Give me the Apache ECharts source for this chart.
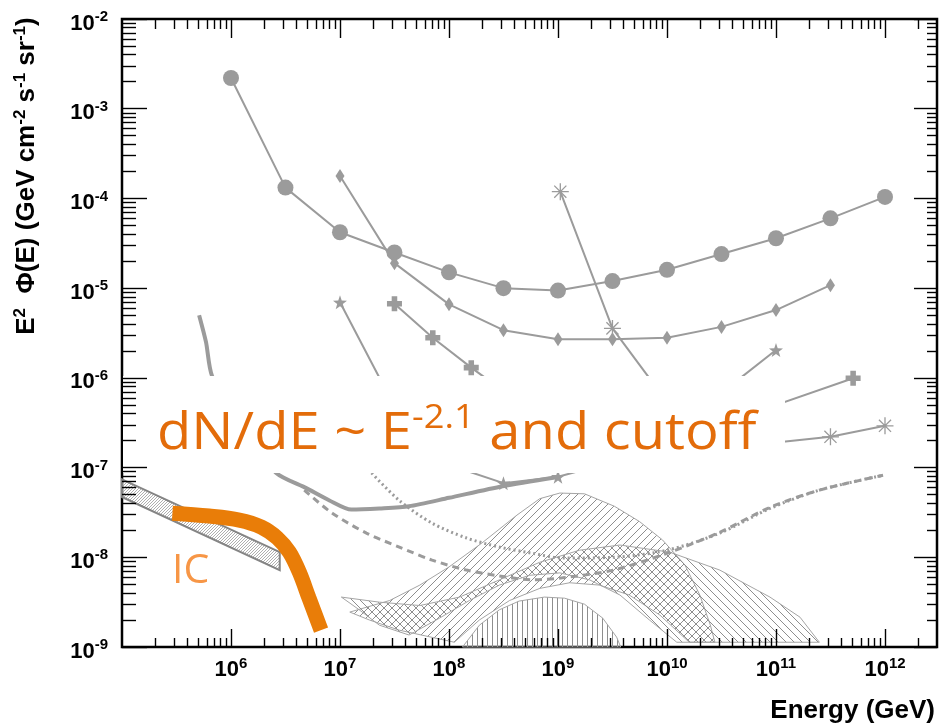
<!DOCTYPE html>
<html>
<head>
<meta charset="utf-8">
<script src="https://cdn.jsdelivr.net/npm/echarts@6/dist/echarts.min.js"></script>
<style>
  html, body { margin: 0; padding: 0; background: #fff; }
  #chart { width: 943px; height: 725px; }
</style>
</head>
<body>
<div id="chart"></div>
<script>
// ---- axis decades (exponents of ten) ----
const xMajorExp = [6, 7, 8, 9, 10, 11, 12];
const yMajorExp = [-9, -8, -7, -6, -5, -4, -3, -2];
const xRange = [1e5, 3e12];
const yRange = [1e-9, 1e-2];

// ---- sensitivity curves: energy (GeV) / E^2 flux (GeV cm^-2 s^-1 sr^-1) ----
const circleE  = [1e6, 3.16e6, 1e7, 3.16e7, 1e8, 3.16e8, 1e9, 3.16e9, 1e10, 3.16e10, 1e11, 3.16e11, 1e12];
const circleF  = [2.2e-3, 1.32e-4, 4.2e-5, 2.5e-5, 1.5e-5, 1.0e-5, 9.4e-6, 1.2e-5, 1.6e-5, 2.4e-5, 3.6e-5, 6.0e-5, 1.04e-4];

const diamondE = [1e7, 3.16e7, 1e8, 3.16e8, 1e9, 3.16e9, 1e10, 3.16e10, 1e11, 3.16e11];
const diamondF = [1.78e-4, 1.9e-5, 6.6e-6, 3.4e-6, 2.7e-6, 2.7e-6, 2.8e-6, 3.7e-6, 5.7e-6, 1.08e-5];

const starE    = [1e7, 3.16e7, 1e8, 3.16e8, 1e9, 3.16e9, 1e10, 3.16e10, 1e11];
const starF    = [6.95e-6, 4.8e-7, 1.07e-7, 6.7e-8, 7.9e-8, 1.15e-7, 2.6e-7, 6.8e-7, 2.04e-6];

const plusE    = [3.16e7, 7.1e7, 1.6e8, 3.5e8, 8e8, 1.8e9, 4e9, 9e9, 2e10, 4.5e10, 5.1e11];
const plusF    = [6.7e-6, 2.8e-6, 1.3e-6, 6.5e-7, 3.8e-7, 2.8e-7, 2.4e-7, 2.4e-7, 2.6e-7, 3.56e-7, 9.9e-7];

const asterE   = [1.05e9, 3.16e9, 1e10, 3.16e10, 1e11, 3.16e11, 1e12];
const asterF   = [1.19e-4, 3.56e-6, 5.4e-7, 2.6e-7, 1.9e-7, 2.2e-7, 2.92e-7];

// thick solid sensitivity curve
const thickE   = [5.1e5, 5.9e5, 6.7e5, 1.32e6, 2.6e6, 4.9e6, 8.0e6, 1.27e7, 2.3e7, 4.3e7, 1.0e8, 3.1e8, 9.7e8];
const thickF   = [5.0e-6, 2.5e-6, 1.05e-6, 2.5e-7, 8.7e-8, 5.9e-8, 4.3e-8, 3.4e-8, 3.5e-8, 3.7e-8, 4.6e-8, 6.2e-8, 7.8e-8];

// dashed and dotted curves
const dashE    = [4.7e6, 8.5e6, 1.75e7, 3.5e7, 7.0e7, 1.45e8, 2.9e8, 5.8e8, 1.1e9, 3.2e9, 1.0e10, 3.05e10, 8.8e10, 2.5e11, 9.6e11];
const dashF    = [5.6e-8, 3.1e-8, 1.86e-8, 1.3e-8, 9.3e-9, 7.2e-9, 6.2e-9, 5.6e-9, 5.9e-9, 7.2e-9, 1.11e-8, 1.9e-8, 3.6e-8, 5.6e-8, 8.2e-8];
const dotE     = [1.95e7, 3.5e7, 7.0e7, 1.45e8, 2.9e8, 5.8e8, 1.1e9, 3.2e9, 1.0e10, 3.05e10, 8.8e10, 2.5e11, 9.6e11];
const dotF     = [8.7e-8, 4.3e-8, 2.4e-8, 1.64e-8, 1.3e-8, 1.11e-8, 9.8e-9, 1.0e-8, 1.2e-8, 1.86e-8, 3.5e-8, 5.6e-8, 8.2e-8];

// inverse-Compton curve
const icE      = [2.9e5, 6.3e5, 1.19e6, 1.9e6, 2.66e6, 3.43e6, 4.24e6, 5.2e6, 6.7e6];
const icF      = [3.1e-8, 2.88e-8, 2.6e-8, 2.17e-8, 1.64e-8, 1.14e-8, 6.8e-9, 3.5e-9, 1.54e-9];

// ---- model bands (outline as [E, flux] pairs) ----
const icBand = [[1e5, 7.4e-8], [2.8e6, 1.14e-8], [2.8e6, 7.2e-9], [1e5, 4.7e-8]];

const bandAUpper = [[1.23e7, 2.45e-9], [2.86e7, 3.3e-9], [5.4e7, 4.9e-9], [1.0e8, 7.8e-9], [2.0e8, 1.44e-8],
  [4.2e8, 2.95e-8], [6.8e8, 4.5e-8], [1.04e9, 5.2e-8], [1.75e9, 5.1e-8], [3.3e9, 3.7e-8], [5.6e9, 2.5e-8],
  [9.1e9, 1.56e-8], [1.46e10, 8.2e-9], [2.0e10, 3.8e-9], [2.5e10, 1.75e-9], [2.75e10, 1.13e-9]];
const bandALower = [[1.6e10, 1.13e-9], [8.6e9, 2.27e-9], [4.5e9, 3.8e-9], [2.4e9, 4.9e-9], [1.28e9, 5.2e-9],
  [6.8e8, 4.5e-9], [3.6e8, 3.3e-9], [1.9e8, 2.0e-9], [1.12e8, 1.13e-9], [3.5e7, 1.54e-9], [1.86e7, 2.0e-9]];

const bandBUpper = [[1.03e7, 3.6e-9], [2.3e7, 3.16e-9], [5.4e7, 2.9e-9], [1.25e8, 3.6e-9], [2.9e8, 5.6e-9],
  [6.8e8, 8.8e-9], [1.58e9, 1.2e-8], [3.7e9, 1.37e-8], [1.06e10, 1.14e-8], [3.05e10, 7.2e-9], [8.8e10, 3.6e-9],
  [1.66e11, 2.15e-9], [2.5e11, 1.13e-9]];
const bandBLower = [[1.23e10, 1.13e-9], [6.9e9, 2.0e-9], [3.7e9, 3.8e-9], [1.95e9, 5.6e-9], [1.04e9, 6.7e-9],
  [5.5e8, 6.3e-9], [2.9e8, 4.9e-9], [1.54e8, 3.3e-9], [8.2e7, 2.1e-9], [4.3e7, 1.36e-9], [2.3e7, 1.75e-9], [1.5e7, 2.6e-9]];

const domeBand = [[1.33e8, 1e-9], [1.9e8, 1.75e-9], [2.9e8, 2.6e-9], [4.4e8, 3.25e-9], [7.5e8, 3.6e-9],
  [1.15e9, 3.5e-9], [1.75e9, 3.0e-9], [2.57e9, 2.1e-9], [3.45e9, 1.29e-9], [3.76e9, 1e-9]];

// ---- styling ----
const GRAY = '#9b9b9b';
const HATCH = '#8e8e8e';
const ORANGE = '#E36C0A';
const AXIS_FONT = 'Liberation Sans, Arial, sans-serif';
const NOTE_FONT = '"Open Sans", Lato, sans-serif';

// hatch tiles used as fill patterns
function hatchTile(kind, step, color, width) {
  const c = document.createElement('canvas');
  c.width = step; c.height = step;
  const g = c.getContext('2d');
  g.strokeStyle = color; g.lineWidth = width;
  g.beginPath();
  if (kind === '/') {
    g.moveTo(0, step); g.lineTo(step, 0);
    g.moveTo(-1, 1); g.lineTo(1, -1);
    g.moveTo(step - 1, step + 1); g.lineTo(step + 1, step - 1);
  } else if (kind === '\\') {
    g.moveTo(0, 0); g.lineTo(step, step);
    g.moveTo(step - 1, -1); g.lineTo(step + 1, 1);
    g.moveTo(-1, step - 1); g.lineTo(1, step + 1);
  } else {
    g.moveTo(step / 2, 0); g.lineTo(step / 2, step);
  }
  g.stroke();
  return { image: c, repeat: 'repeat' };
}

const pairs = (E, F) => E.map((e, i) => [e, F[i]]);
const log10 = Math.log10;

// minor tick positions (2..9 within each decade), in decades
function minorTicks(from, to, maxVal) {
  const out = [];
  for (let d = from; d <= to; d++) {
    for (let k = 2; k <= 9; k++) {
      const v = d + log10(k);
      if (v < maxVal) out.push(v);
    }
  }
  return out;
}
const xLo = log10(xRange[0]), xHi = log10(xRange[1]);
const yLo = log10(yRange[0]), yHi = log10(yRange[1]);
const xMinor = minorTicks(5, 12, xHi);
const yMinor = minorTicks(-9, -3, yHi);

// "10" with a raised exponent
const powRich = {
  b: { fontSize: 22, fontWeight: 'bold', fontFamily: AXIS_FONT, color: '#000', lineHeight: 22, verticalAlign: 'bottom' },
  s: { fontSize: 15, fontWeight: 'bold', fontFamily: AXIS_FONT, color: '#000', lineHeight: 15, verticalAlign: 'bottom',
       padding: [0, 0, 10, 0] }
};
const powFmt = v => '{b|10}{s|' + v + '}';

function tickAxis(pos, lo, hi, values, len, labels, margin, pad) {
  return {
    type: 'value', gridIndex: 0, position: pos, min: lo, max: hi, z: 60,
    axisLine: { show: false }, splitLine: { show: false },
    axisTick: { show: true, inside: true, length: len, customValues: values,
      lineStyle: { color: '#000', width: 1.4 } },
    axisLabel: labels
      ? { show: true, customValues: values, formatter: powFmt, rich: powRich, margin: margin, padding: pad || 0 }
      : { show: false }
  };
}

function lineSeries(name, data, opts) {
  return Object.assign({
    name, type: 'line', xAxisIndex: 0, yAxisIndex: 0, data,
    showSymbol: true, showAllSymbol: true, silent: true, z: 5,
    lineStyle: { color: GRAY, width: 2 },
    itemStyle: { color: GRAY }
  }, opts);
}

function polygonSeries(name, outline, fill, stroke, lineWidth, z) {
  return {
    name, type: 'custom', xAxisIndex: 0, yAxisIndex: 0, z, silent: true,
    data: [[1e8, 1e-8]],
    renderItem(params, api) {
      return {
        type: 'polygon',
        shape: { points: outline.map(p => api.coord(p)) },
        style: { fill: fill, stroke: stroke, lineWidth: lineWidth }
      };
    }
  };
}

const STAR = 'path://M0,-10L2.35,-3.24L9.51,-3.09L3.8,1.24L5.88,8.09L0,4L-5.88,8.09L-3.8,1.24L-9.51,-3.09L-2.35,-3.24Z';
const PLUS = 'path://M-2.6,-7H2.6V-2.6H7V2.6H2.6V7H-2.6V2.6H-7V-2.6H-2.6Z';
const DIAMOND = 'path://M0,-7L3,0L0,7L-3,0Z';
const ASTER = 'path://M-8,0L8,0M0,-8L0,8M-5.7,-5.7L5.7,5.7M-5.7,5.7L5.7,-5.7';

const option = {
  animation: false,
  backgroundColor: '#fff',
  grid: { left: 122, right: 6, top: 19, bottom: 78, show: true, borderColor: '#000', borderWidth: 2.5,
          backgroundColor: 'transparent', containLabel: false, outerBoundsMode: 'none' },
  xAxis: [
    { type: 'log', logBase: 10, min: xRange[0], max: xRange[1], gridIndex: 0, position: 'bottom', show: false },
    tickAxis('bottom', xLo, xHi, xMajorExp, 18, true, 12),
    tickAxis('bottom', xLo, xHi, xMinor, 9, false),
    tickAxis('top', xLo, xHi, xMajorExp, 19, false),
    tickAxis('top', xLo, xHi, xMinor, 10, false)
  ],
  yAxis: [
    { type: 'log', logBase: 10, min: yRange[0], max: yRange[1], gridIndex: 0, position: 'left', show: false },
    tickAxis('left', yLo, yHi, yMajorExp, 25, true, 14, [9, 0, 0, 0]),
    tickAxis('left', yLo, yHi, yMinor, 14, false),
    tickAxis('right', yLo, yHi, yMajorExp, 23, false),
    tickAxis('right', yLo, yHi, yMinor, 10, false)
  ],
  series: [
    polygonSeries('band A', bandAUpper.concat(bandALower), hatchTile('/', 8, HATCH, 1), '#a5a5a5', 1, 3),
    polygonSeries('band B', bandBUpper.concat(bandBLower), hatchTile('\\', 8, HATCH, 1), '#a5a5a5', 1, 3),
    polygonSeries('dome', domeBand, hatchTile('|', 5, HATCH, 1), '#a5a5a5', 1, 3),
    polygonSeries('IC band', icBand, hatchTile('/', 3, '#9a9a9a', 0.8), '#858585', 2, 4),

    lineSeries('thick', pairs(thickE, thickF), { showSymbol: false, smooth: 0.25, lineStyle: { color: GRAY, width: 4 } }),
    lineSeries('dashed', pairs(dashE, dashF), { showSymbol: false, smooth: 0.3, lineStyle: { color: GRAY, width: 3, type: [7, 5] } }),
    lineSeries('dotted', pairs(dotE, dotF), { showSymbol: false, smooth: 0.3, lineStyle: { color: GRAY, width: 3, type: [2, 3] } }),

    lineSeries('circles', pairs(circleE, circleF), { symbol: 'circle', symbolSize: 16 }),
    lineSeries('diamonds', pairs(diamondE, diamondF), { symbol: DIAMOND, symbolSize: [9, 14] }),
    lineSeries('stars', pairs(starE, starF), { symbol: STAR, symbolSize: 14 }),
    lineSeries('crosses', pairs(plusE, plusF), { symbol: PLUS, symbolSize: 15 }),
    lineSeries('asterisks', pairs(asterE, asterF), { symbol: ASTER, symbolSize: 17,
      itemStyle: { color: 'rgba(0,0,0,0)', borderColor: GRAY, borderWidth: 1.3 } }),

    lineSeries('IC', pairs(icE, icF), { showSymbol: false, smooth: 0.35, z: 8,
      lineStyle: { color: '#E97D08', width: 15, cap: 'butt' } })
  ],
  graphic: [
    // white panel behind the spectral-shape note
    { type: 'rect', silent: true, z: 50, shape: { x: 123, y: 376, width: 662, height: 97 }, style: { fill: '#fff' } },
    { type: 'text', silent: true, z: 51, x: 157, y: 400, scaleX: 1.1,
      style: {
        text: '{a|dN/dE ~ E}{s|-2.1}{a| and cutoff}',
        verticalAlign: 'top',
        rich: {
          a: { fontFamily: NOTE_FONT, fontSize: 51, fill: ORANGE, lineHeight: 60, verticalAlign: 'bottom' },
          s: { fontFamily: NOTE_FONT, fontSize: 33, fill: ORANGE, lineHeight: 34, verticalAlign: 'bottom', padding: [0, 0, 25, 0] }
        }
      } },
    { type: 'text', silent: true, z: 51, x: 172, y: 571,
      style: { text: 'IC', fontFamily: NOTE_FONT, fontSize: 41, fill: '#F79646', verticalAlign: 'middle' } },
    // axis titles
    { type: 'text', silent: true, z: 51, x: 935, y: 724,
      style: { text: 'Energy (GeV)', fontFamily: AXIS_FONT, fontWeight: 'bold', fontSize: 26, fill: '#000',
               align: 'right', verticalAlign: 'bottom' } },
    { type: 'text', silent: true, z: 51, x: 27, y: 176, rotation: Math.PI / 2,
      style: {
        text: '{b|E}{s|2}{b|  Φ(E) (GeV cm}{s|-2}{b| s}{s|-1}{b| sr}{s|-1}{b|)}',
        align: 'center', verticalAlign: 'middle',
        rich: {
          b: { fontFamily: AXIS_FONT, fontWeight: 'bold', fontSize: 26, fill: '#000', lineHeight: 26, verticalAlign: 'bottom' },
          s: { fontFamily: AXIS_FONT, fontWeight: 'bold', fontSize: 17, fill: '#000', lineHeight: 17, verticalAlign: 'bottom',
               padding: [0, 0, 11, 0] }
        }
      } }
  ]
};

const chart = echarts.init(document.getElementById('chart'), null, { renderer: 'canvas' });
chart.setOption(option);
</script>
</body>
</html>
